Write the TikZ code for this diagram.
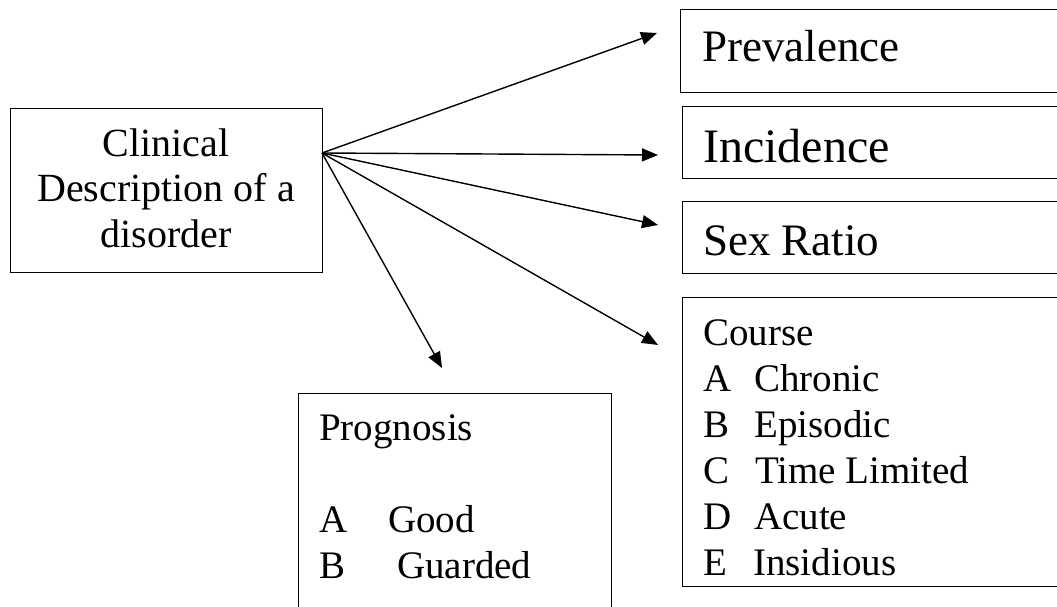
\documentclass[tikz,border=0pt]{standalone}
\usepackage{fontspec}
\setmainfont{Liberation Serif}
\usetikzlibrary{arrows.meta}
\tikzset{
  box/.style={draw=black, line width=1.4pt, rectangle, inner sep=0pt, anchor=north west},
  txt/.style={inner sep=0pt, anchor=base west, text=black},
  conn/.style={line width=1.4pt, -{Triangle[length=16pt,width=13pt]}},
}
\newcommand{\fs}[2]{\fontsize{#1}{#2}\selectfont}
\begin{document}
\begin{tikzpicture}[x=1pt,y=-1pt]
\useasboundingbox (0,0) rectangle (1057,607);
\clip (0,0) rectangle (1057,607);
\fill[white] (0,0) rectangle (1057,607);
% boxes
\node[box, minimum width=312pt, minimum height=164pt] (clin) at (10,108) {};
\node[box, minimum width=400pt, minimum height=83pt] (prev) at (680,9) {};
\node[box, minimum width=400pt, minimum height=72pt] (inc) at (682,106) {};
\node[box, minimum width=400pt, minimum height=72pt] (sex) at (682,201) {};
\node[box, minimum width=400pt, minimum height=289pt] (course) at (682,297) {};
\node[box, minimum width=313pt, minimum height=240pt] (prog) at (298,393) {};
% texts
\node[inner sep=0pt, anchor=base] (clintext) at (166,157)
  {\fs{40}{45}\vtop{\halign{\hfil#\hfil\cr Clinical\cr Description of a\cr disorder\cr}}};
\node[txt] (prevtext) at (702,62) {\fs{45}{50}Prevalence};
\node[txt] (inctext) at (703,162) {\fs{48}{54}Incidence};
\node[txt] (sextext) at (703,255) {\fs{45}{50}Sex Ratio};
\node[txt] (coursetext) at (703,345)
  {\fs{39}{46}\vtop{\hbox{Course}
    \hbox{\hbox to 51pt{A\hfil}Chronic}
    \hbox{\hbox to 51pt{B\hfil}Episodic}
    \hbox{\hbox to 52pt{C\hfil}Time Limited}
    \hbox{\hbox to 51pt{D\hfil}Acute}
    \hbox{\hbox to 50pt{E\hfil}Insidious}}};
\node[txt] (progtext) at (319,440)
  {\fs{39}{46}\vtop{\hbox{Prognosis}
    \hbox{}
    \hbox{\hbox to 69pt{A\hfil}Good}
    \hbox{\hbox to 78pt{B\hfil}Guarded}}};
% connectors
\coordinate (hub) at (322,153);
\coordinate (tprev) at (657,33);
\coordinate (tinc) at (658,155);
\coordinate (tsex) at (658,225);
\coordinate (tcourse) at (658,345);
\coordinate (tprog) at (442,368);
\draw[conn] (hub) -- (tprev);
\draw[conn] (hub) -- (tinc);
\draw[conn] (hub) -- (tsex);
\draw[conn] (hub) -- (tcourse);
\draw[conn] (hub) -- (tprog);
\end{tikzpicture}
\end{document}
